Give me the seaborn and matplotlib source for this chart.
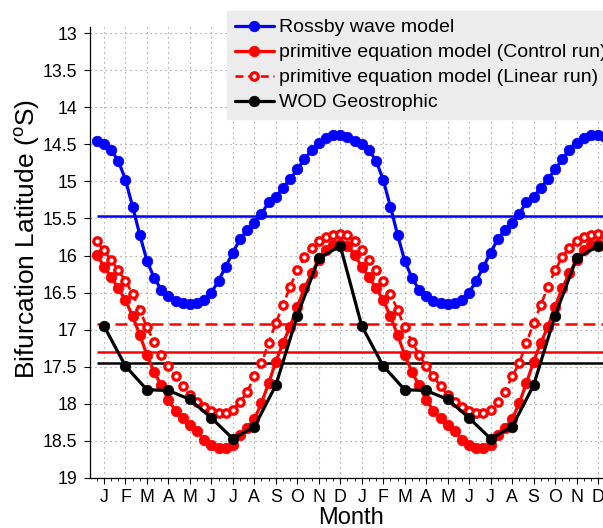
import numpy as np
import pandas as pd
import matplotlib
matplotlib.use("Agg")
import matplotlib.pyplot as plt
import seaborn as sns

# Annual cycle of the western-boundary bifurcation latitude (deg S),
# shown over two consecutive years.
month_letters = ["J", "F", "M", "A", "M", "J", "J", "A", "S", "O", "N", "D"]
n_years = 2

# 10-day (dekad) climatologies, 36 values per year
rossby_wave = [14.46, 14.50, 14.58, 14.72, 14.98, 15.34, 15.72, 16.07, 16.30,
               16.46, 16.55, 16.61, 16.64, 16.66, 16.64, 16.60, 16.50, 16.34,
               16.15, 15.96, 15.78, 15.66, 15.56, 15.44, 15.28, 15.21, 15.09,
               14.97, 14.84, 14.70, 14.58, 14.48, 14.41, 14.38, 14.38, 14.40]
pe_control = [15.99, 16.15, 16.29, 16.44, 16.60, 16.82, 17.07, 17.34, 17.57,
              17.75, 17.95, 18.09, 18.19, 18.29, 18.36, 18.49, 18.56, 18.60,
              18.60, 18.55, 18.42, 18.33, 18.21, 17.99, 17.72, 17.43, 17.18,
              16.96, 16.69, 16.44, 16.24, 16.06, 15.93, 15.86, 15.84, 15.87]
pe_linear = [15.81, 15.93, 16.06, 16.20, 16.34, 16.52, 16.73, 16.97, 17.16,
             17.34, 17.49, 17.63, 17.76, 17.88, 17.97, 18.04, 18.09, 18.12,
             18.12, 18.08, 17.98, 17.84, 17.63, 17.45, 17.18, 16.91, 16.67,
             16.42, 16.20, 16.02, 15.90, 15.81, 15.75, 15.72, 15.71, 15.73]
# Monthly climatology from WOD geostrophic velocities
wod_geo = [16.95, 17.49, 17.81, 17.82, 17.94, 18.19,
           18.47, 18.31, 17.75, 16.81, 16.04, 15.87]

labels = ["Rossby wave model",
          "primitive equation model (Control run)",
          "primitive equation model (Linear run)",
          "WOD Geostrophic"]

# time axis in months; month m is centred at m + 0.5
dekad_t = (np.arange(36 * n_years) + 0.5) / 3.0
month_t = np.arange(12 * n_years) + 0.5

dekad = pd.DataFrame({
    "t": dekad_t,
    "rossby": np.tile(rossby_wave, n_years),
    "control": np.tile(pe_control, n_years),
    "linear": np.tile(pe_linear, n_years),
})
monthly = pd.DataFrame({"t": month_t, "wod": np.tile(wod_geo, n_years)})

sns.set_style("ticks")
plt.rcParams["font.family"] = ["Liberation Sans", "DejaVu Sans"]
plt.rcParams["mathtext.fontset"] = "custom"
plt.rcParams["mathtext.rm"] = "Liberation Sans"
plt.rcParams["mathtext.it"] = "Liberation Sans:italic"
for key in ("text.color", "axes.labelcolor", "xtick.color", "ytick.color",
            "xtick.labelcolor", "ytick.labelcolor"):
    plt.rcParams[key] = "black"

fig = plt.figure(figsize=(6.03, 5.28), dpi=100)
ax = fig.add_axes([90 / 603, 50 / 528, 522 / 603, 451 / 528])

blue, red, black = "#0000FF", "#FF0000", "#000000"
ms_fill = 7.6

# annual-mean reference lines
t0, t1 = dekad_t[0], dekad_t[-1]
ax.hlines(dekad["rossby"].mean(), t0, t1, color=blue, lw=1.8, zorder=2)
ax.hlines(dekad["control"].mean(), t0, t1, color=red, lw=1.8, zorder=2)
ax.hlines(dekad["linear"].mean(), t0, t1, color=red, lw=1.8,
          linestyles=(0, (4.8, 2.4)), zorder=2)
ax.hlines(monthly["wod"].mean(), t0, t1, color=black, lw=1.8, zorder=2)

sns.lineplot(data=dekad, x="t", y="control", ax=ax, color=red, lw=2.3,
             marker="o", markersize=ms_fill, markeredgecolor=red,
             markeredgewidth=0.5, label=labels[1], zorder=3)
sns.lineplot(data=dekad, x="t", y="linear", ax=ax, color=red, lw=1.9,
             linestyle=(0, (3.0, 1.8)), marker="o", markersize=5.4,
             markerfacecolor="white", markeredgecolor=red,
             markeredgewidth=2.3, label=labels[2], zorder=4)
sns.lineplot(data=monthly, x="t", y="wod", ax=ax, color=black, lw=2.3,
             marker="o", markersize=ms_fill, markeredgecolor=black,
             markeredgewidth=0.5, label=labels[3], zorder=5)
sns.lineplot(data=dekad, x="t", y="rossby", ax=ax, color=blue, lw=2.3,
             marker="o", markersize=ms_fill, markeredgecolor=blue,
             markeredgewidth=0.5, label=labels[0], zorder=6)

# axes, ticks and grid
ax.set_xlim(-0.15, 24.15)
ax.set_ylim(19.0, 12.919)
ax.set_xticks(month_t)
ax.set_xticklabels(month_letters * n_years)
ax.set_xticks(dekad_t, minor=True)
yt = np.arange(13.0, 19.01, 0.5)
ax.set_yticks(yt)
ax.set_yticklabels([f"{v:g}" for v in yt])
ax.tick_params(axis="both", which="major", labelsize=12.8, length=4,
               width=0.8, color="black", labelcolor="black", pad=5)
ax.tick_params(axis="x", which="major", pad=4)
ax.tick_params(axis="x", which="minor", length=2, width=0.6, color="black")
ax.grid(True, which="major", color="#8a8a8a", lw=0.8,
        linestyle=(0, (1, 3.5)))
for side in ("top", "right"):
    ax.spines[side].set_visible(False)
for side in ("left", "bottom"):
    ax.spines[side].set_linewidth(0.9)
    ax.spines[side].set_color("black")

ax.set_xlabel("Month", fontsize=17, color="black")
ax.set_ylabel(r"Bifurcation Latitude ($^{\rm o}$S)", fontsize=19,
              color="black")
ax.xaxis.set_label_coords(0.5, -0.064)
ax.yaxis.set_label_coords(-0.092, 0.53)

handles, labs = ax.get_legend_handles_labels()
lookup = dict(zip(labs, handles))
if ax.legend_ is not None:
    ax.legend_.remove()
leg = fig.legend([lookup[l] for l in labels], labels, loc="upper left",
                 bbox_to_anchor=(227 / 603, 1 - 11 / 528), borderaxespad=0,
                 fontsize=14, frameon=True, fancybox=False,
                 facecolor="#ECECEC", edgecolor="#ECECEC", framealpha=1,
                 handlelength=2.0, handletextpad=0.25, labelspacing=0.38,
                 borderpad=0.4)
for txt in leg.get_texts():
    txt.set_color("black")

fig.savefig("out.png", dpi=100)
